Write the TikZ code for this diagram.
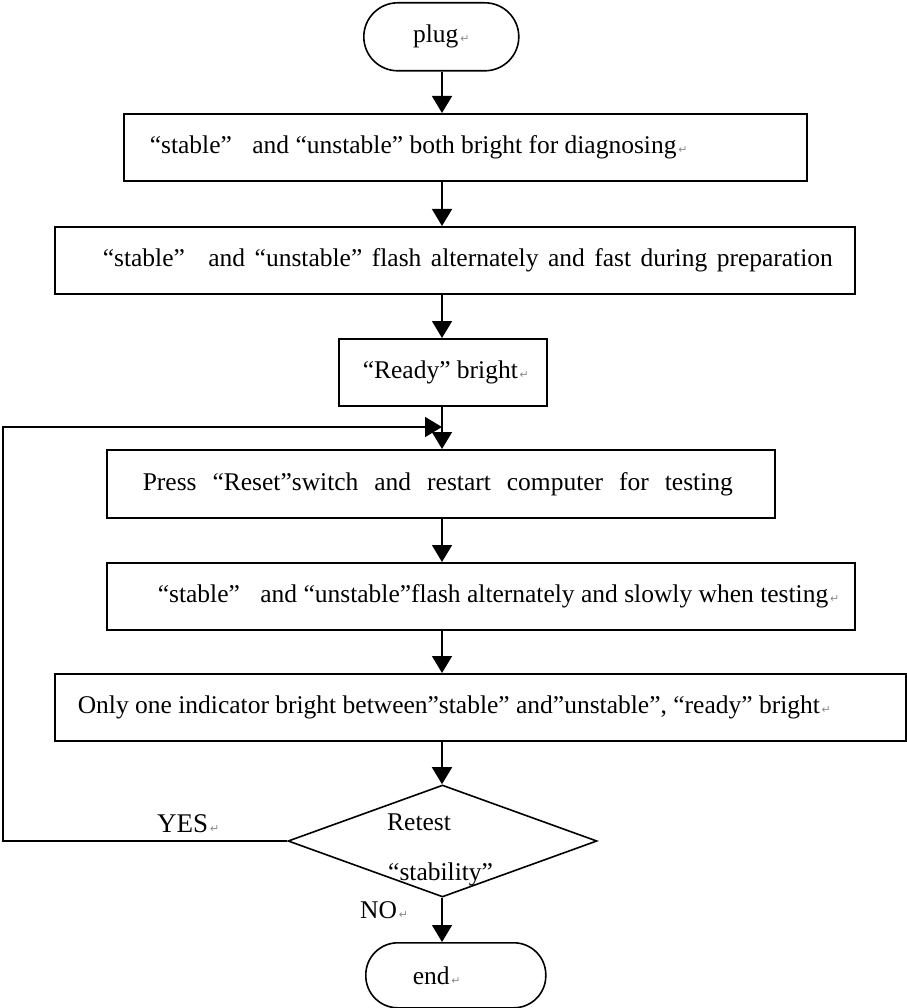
\documentclass[tikz,border=0pt]{standalone}
\usepackage{fontspec}
\setmainfont{Liberation Serif}
\newfontfamily\symfont{DejaVu Sans}
\usetikzlibrary{arrows.meta,shapes.geometric}
\newcommand\parmk{{\symfont\fontsize{11}{11}\selectfont\color{black!45}\,↵}}
\begin{document}
\begin{tikzpicture}[x=1pt,y=-1pt,
  every node/.style={font=\fontsize{25.5}{30}\selectfont},
  box/.style={draw, line width=1.6pt, inner sep=0pt, anchor=north west},
  term/.style={draw, line width=1.6pt, inner sep=0pt, anchor=north west},
  arr/.style={line width=1.6pt, -{Triangle[length=17pt,width=20pt]}},
  lbl/.style={inner sep=0pt, anchor=base west}]
\useasboundingbox (0,0) rectangle (906,1008);
\fill[white] (0,0) rectangle (906,1008);
% terminals
\node[term, rounded corners=34pt, minimum width=155pt, minimum height=68pt] (plug) at (363,2)
  {\makebox[155pt]{plug\parmk}};
\node[term, rounded corners=32pt, minimum width=180pt, minimum height=65pt] (end) at (365,942)
  {\makebox[180pt][l]{\hspace{47pt}end\parmk}};
% process boxes
\node[box, minimum width=683pt, minimum height=67pt] (b1) at (123,113)
  {\makebox[683pt][l]{\hspace{26pt}“stable”\hspace{14pt} and “unstable” both bright for diagnosing\parmk}};
\node[box, minimum width=800pt, minimum height=67pt] (b2) at (54,226)
  {\makebox[800pt][l]{\hspace{48pt}\makebox[730pt][s]{“stable”\hspace{14pt} and “unstable” flash alternately and fast during preparation}}};
\node[box, minimum width=208pt, minimum height=67pt] (b3) at (338,338)
  {\makebox[208pt][l]{\hspace{24pt}“Ready” bright\parmk}};
\node[box, minimum width=668pt, minimum height=68pt] (b4) at (106,449)
  {\makebox[668pt][l]{\hspace{36pt}\makebox[590pt][s]{Press “Reset”switch and restart computer for testing}}};
\node[box, minimum width=748pt, minimum height=67pt] (b5) at (106,562)
  {\makebox[748pt][l]{\hspace{51pt}“stable”\hspace{14pt} and “unstable”flash alternately and slowly when testing\parmk}};
\node[box, minimum width=851pt, minimum height=67pt] (b6) at (54,673)
  {\makebox[851pt][l]{\hspace{23pt}Only one indicator bright between”stable” and”unstable”, “ready” bright\parmk}};
% decision
\node[diamond, draw, line width=1.6pt, inner sep=0pt, minimum width=309pt, minimum height=112pt] (dia) at (442.5,841) {};
\node[lbl] (rt) at (387,830) {Retest};
\node[lbl] (st) at (388,880) {“stability”};
% labels
\node[lbl, font=\fontsize{27}{30}\selectfont] (yes) at (157,832) {YES\parmk};
\node[lbl] (no) at (360,918) {NO\parmk};
% connectors
\coordinate (j) at (442,427);
\coordinate (lc) at (3,841);
\draw[arr] (plug.south -| j) -- (b1.north -| j);
\draw[arr] (b1.south -| j) -- (b2.north -| j);
\draw[arr] (b2.south -| j) -- (b3.north -| j);
\draw[arr] (b3.south -| j) -- (b4.north -| j);
\draw[arr] (b4.south -| j) -- (b5.north -| j);
\draw[arr] (b5.south -| j) -- (b6.north -| j);
\draw[arr] (b6.south -| j) -- (dia.north -| j);
\draw[arr] (dia.south -| j) -- (end.north -| j);
\draw[arr] (dia.west) -- (lc) |- (j);
\end{tikzpicture}
\end{document}
